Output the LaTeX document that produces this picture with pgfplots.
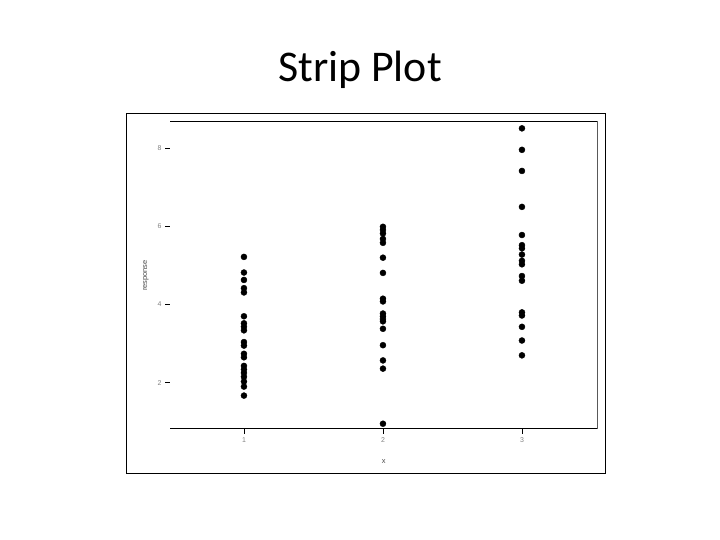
\documentclass[border=0pt]{standalone}
\usepackage{fontspec}
\setmainfont{Carlito}
\setsansfont{Liberation Sans}
\usepackage{pgfplots}
\pgfplotsset{compat=1.18}
\begin{document}
\begin{tikzpicture}[x=1bp,y=1bp]
\path[use as bounding box] (0,0) rectangle (720,540);
\node[anchor=base,font=\fontsize{44}{50}\selectfont] at (360,458) {Strip Plot};
\draw[line width=1bp] (126.7,66) rectangle (605,426);
\begin{axis}[
  at={(170bp,111bp)}, anchor=south west,
  scale only axis, width=427.7bp, height=307bp,
  xmin=0.468, xmax=3.545, ymin=0.815, ymax=8.673,
  axis line style={draw=none},
  xtick={1,2,3}, ytick={2,4,6,8},
  tick align=outside, major tick length=5bp,
  xtick pos=bottom, ytick pos=left,
  tick style={black, line width=0.8bp},
  tick label style={font=\sffamily\fontsize{7}{8}\selectfont, text=black!50},
  /pgf/number format/assume math mode=true,
  xlabel={x}, ylabel={response},
  label style={font=\sffamily\fontsize{7.5}{8}\selectfont, text=black!70},
  xlabel style={yshift=-10bp},
  ylabel style={yshift=2bp},
]
\addplot[only marks, mark=*, mark size=3bp, black] coordinates {
(1,5.22) (1,4.82) (1,4.63) (1,4.42) (1,4.31) (1,3.70) (1,3.52) (1,3.43)
(1,3.34) (1,3.04) (1,2.95) (1,2.74) (1,2.65) (1,2.43) (1,2.34) (1,2.25)
(1,2.15) (1,2.03) (1,1.90) (1,1.67)
};
\addplot[only marks, mark=*, mark size=3bp, black] coordinates {
(2,5.99) (2,5.91) (2,5.82) (2,5.68) (2,5.58) (2,5.20) (2,4.81) (2,4.15)
(2,4.08) (2,3.77) (2,3.70) (2,3.63) (2,3.57) (2,3.38) (2,2.96) (2,2.57)
(2,2.36) (2,0.95)
};
\addplot[only marks, mark=*, mark size=3bp, black] coordinates {
(3,8.51) (3,7.96) (3,7.42) (3,6.50) (3,5.78) (3,5.52) (3,5.44) (3,5.28)
(3,5.12) (3,5.03) (3,4.73) (3,4.61) (3,3.80) (3,3.72) (3,3.43) (3,3.08)
(3,2.70)
};
\draw[black, line width=1bp] (rel axis cs:0,1) -- (rel axis cs:1,1) -- (rel axis cs:1,0) -- (rel axis cs:0,0);
\end{axis}
\end{tikzpicture}
\end{document}
